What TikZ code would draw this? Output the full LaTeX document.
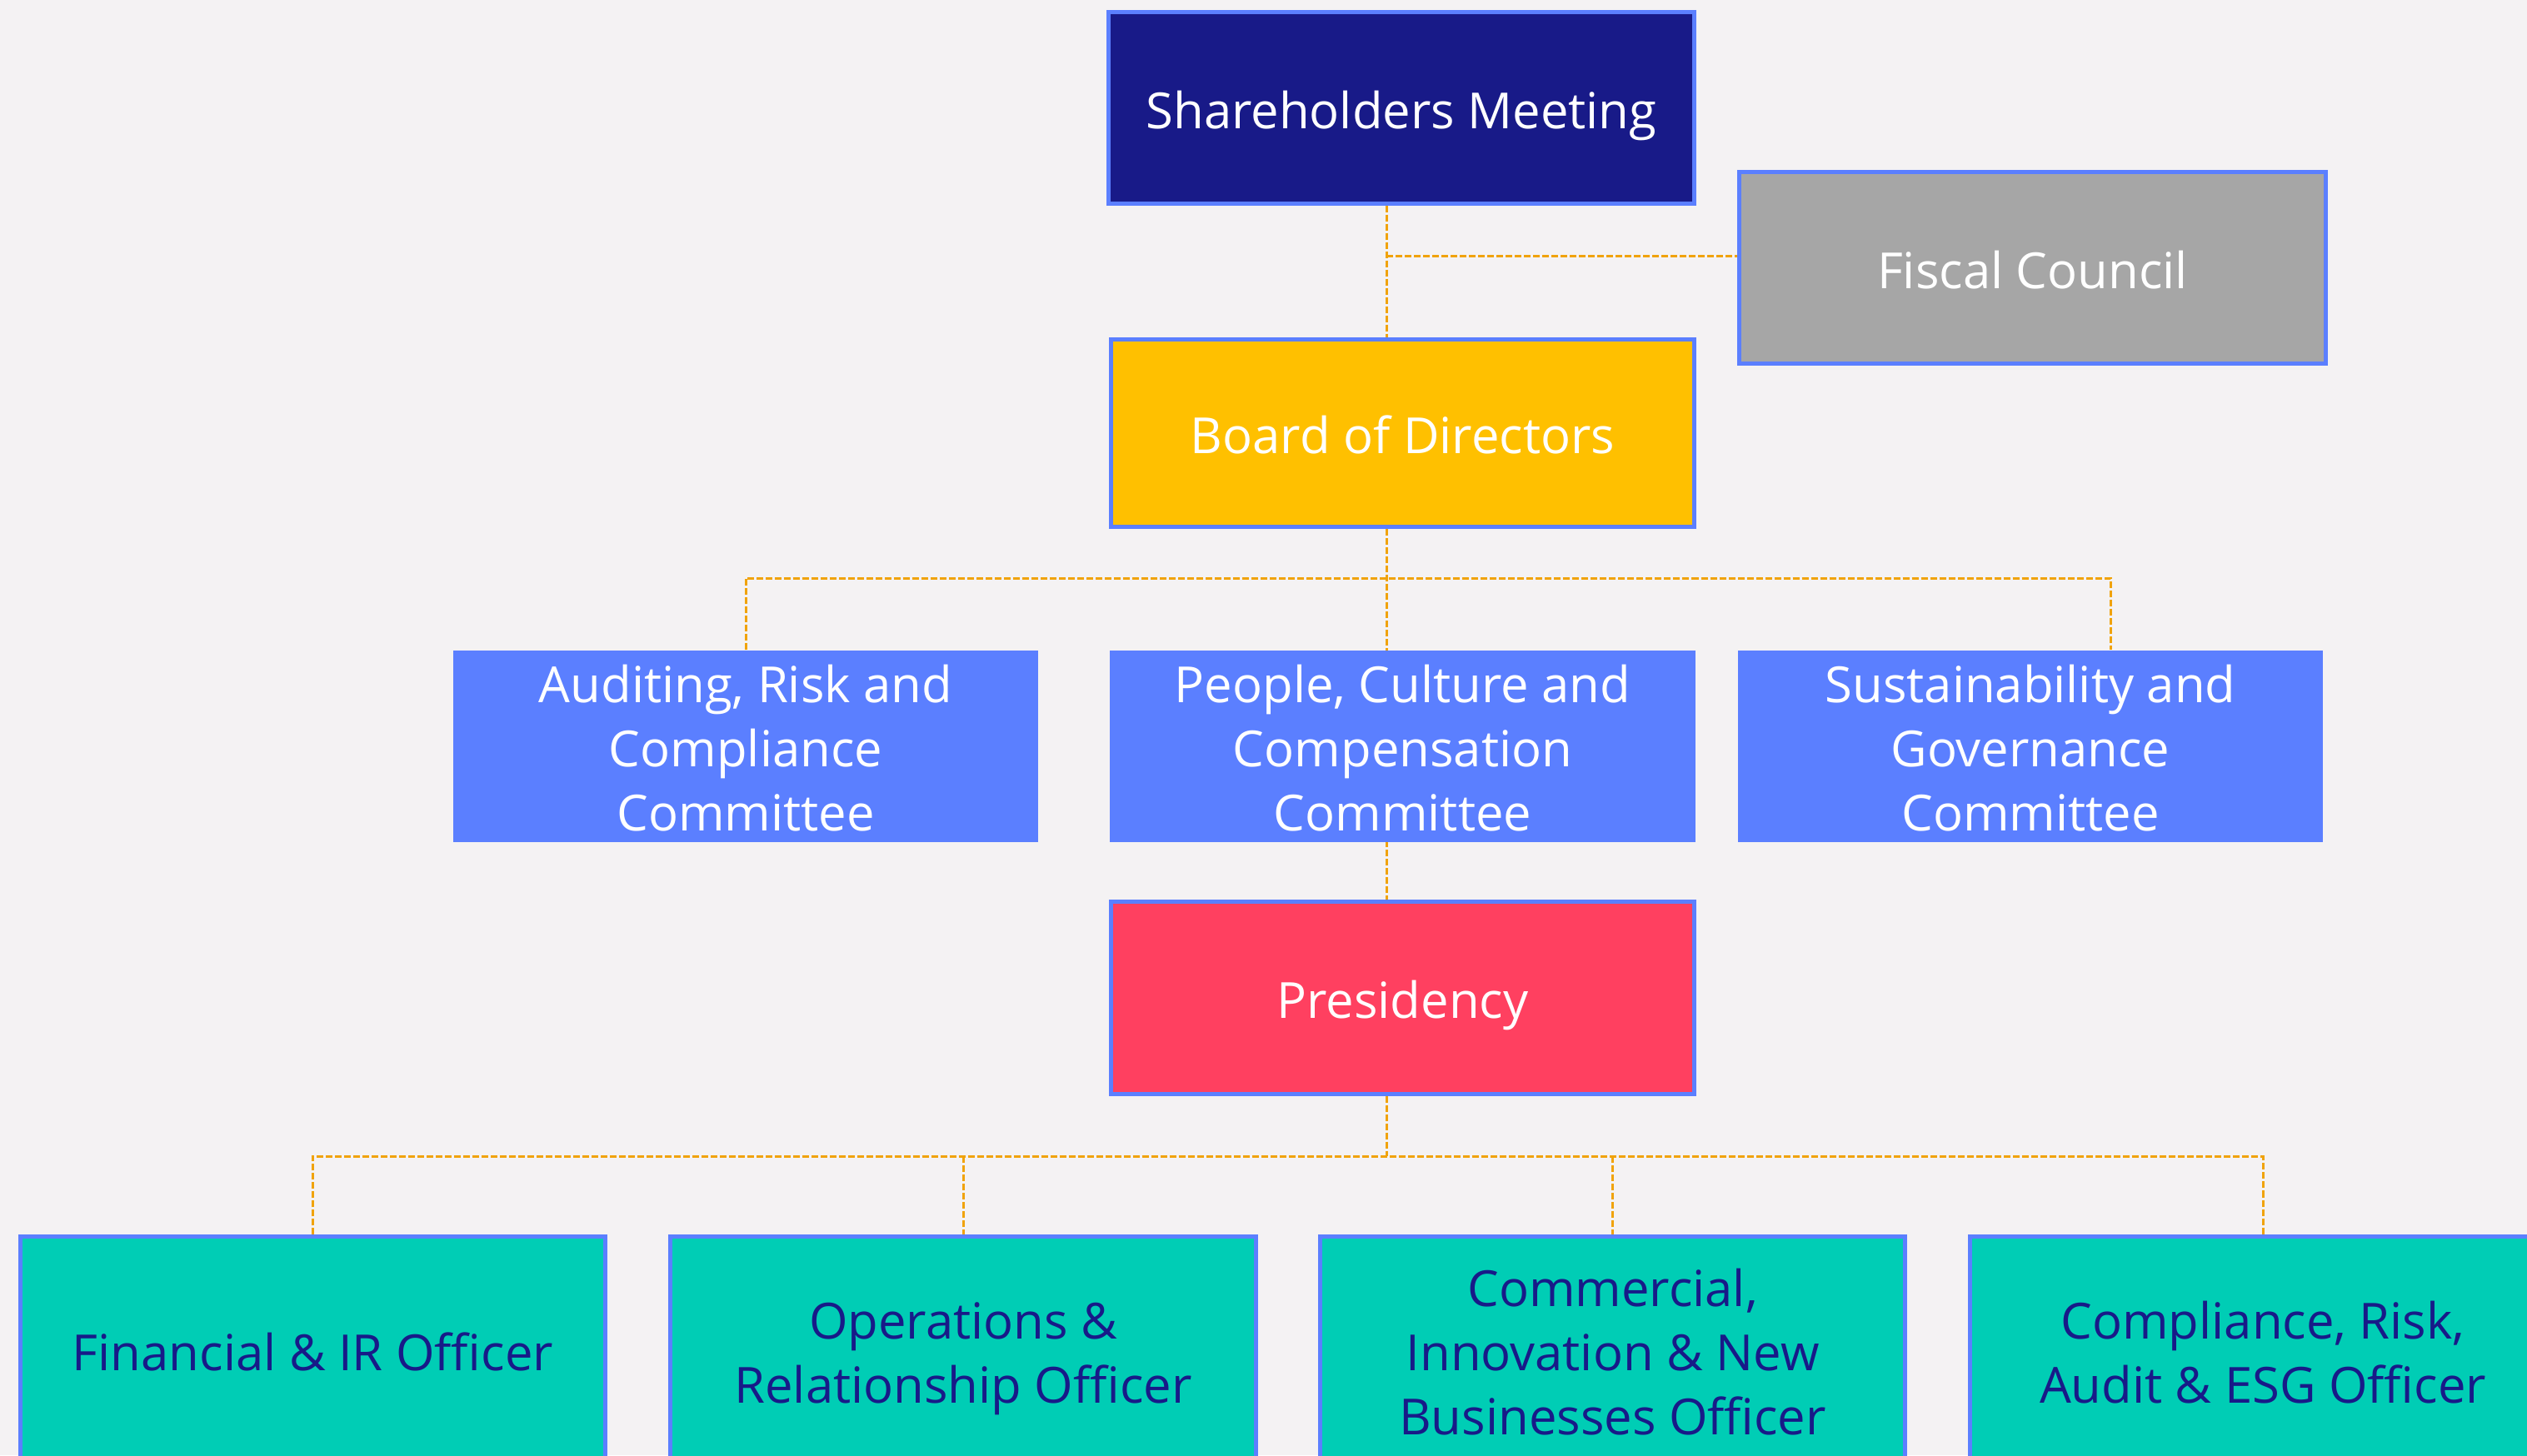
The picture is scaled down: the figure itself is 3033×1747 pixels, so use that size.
\documentclass[tikz,border=0pt]{standalone}
\usepackage{fontspec}
\setmainfont{Open Sans}
\pgfdeclarelayer{background}
\pgfsetlayers{background,main}
\definecolor{bgc}{HTML}{F4F2F3}
\definecolor{navy}{HTML}{181A88}
\definecolor{bord}{HTML}{5B7FFF}
\definecolor{grayc}{HTML}{A6A6A6}
\definecolor{gold}{HTML}{FFC000}
\definecolor{comm}{HTML}{5B7FFF}
\definecolor{redc}{HTML}{FF4060}
\definecolor{teal}{HTML}{00CDB5}
\definecolor{linec}{HTML}{F0A30A}
% one text line with a fixed strut, so that boxes centre on the capitals
\newcommand\tline[1]{\smash{#1}\rule[-1.0pt]{0pt}{16.0pt}}
\begin{document}
\begin{tikzpicture}[x=0.01cm,y=-0.01cm,
  box/.style={rectangle, draw=bord, line width=1.4pt, inner sep=0pt, align=center,
    font=\fontsize{17}{21.9}\selectfont, text=white},
  cbox/.style={rectangle, fill=comm, inner sep=0pt, align=center,
    font=\fontsize{17}{21.9}\selectfont, text=white, minimum width=7.02cm, minimum height=2.30cm},
  obox/.style={box, fill=teal, text=navy, minimum width=7.02cm, minimum height=2.72cm},
  conn/.style={draw=linec, line width=0.85pt, dash pattern=on 0.08cm off 0.03cm}]
\path[use as bounding box, clip] (0,0) rectangle (3033,1747);
% top nodes
\node[box, fill=navy, minimum width=7.02cm, minimum height=2.29cm] (sh) at (1682,129.5) {\tline{Shareholders Meeting}};
\node[box, fill=grayc, minimum width=7.03cm, minimum height=2.29cm] (fc) at (2439.5,321.5) {\tline{Fiscal Council}};
\node[box, fill=gold, minimum width=7.00cm, minimum height=2.25cm] (bd) at (1683.5,520) {\tline{Board of Directors}};
% committees
\node[cbox] (ar) at (895,896) {\tline{Auditing, Risk and}\\\tline{Compliance}\\\tline{Committee}};
\node[cbox] (pc) at (1683.5,896) {\tline{People, Culture and}\\\tline{Compensation}\\\tline{Committee}};
\node[cbox] (sg) at (2437,896) {\tline{Sustainability and}\\\tline{Governance}\\\tline{Committee}};
% presidency
\node[box, fill=redc, minimum width=7.00cm, minimum height=2.30cm] (pr) at (1683.5,1198) {\tline{Presidency}};
% officers
\node[obox] (fi) at (375.5,1621) {\tline{Financial \& IR Officer}};
\node[obox] (op) at (1156,1621) {\tline{Operations \&}\\\tline{Relationship Officer}};
\node[obox] (co) at (1935.5,1621) {\tline{Commercial,}\\\tline{Innovation \& New}\\\tline{Businesses Officer}};
\node[obox] (cr) at (2716,1621) {\tline{Compliance, Risk,}\\\tline{Audit \& ESG Officer}};
% connector helpers
\coordinate (trunk) at (1664,0);
\coordinate (fcj) at (1664,307);
\coordinate (cbus) at (1664,694);
\coordinate (sgx) at (2533,0);
\coordinate (obus) at (1664,1388);
\begin{pgfonlayer}{background}
\fill[bgc] (0,0) rectangle (3033,1747);
\path[conn] (sh.south -| trunk) -- (bd.north -| trunk);
\path[conn] (fcj) -- (fcj -| fc.west);
\path[conn] (bd.south -| trunk) -- (pr.north -| trunk);
\path[conn] (ar.north) -- (ar.north |- cbus) -- (cbus -| sgx) -- (sg.north -| sgx);
\path[conn] (pr.south -| trunk) -- (obus);
\path[conn] (fi.north) -- (fi.north |- obus) -- (obus -| cr.north) -- (cr.north);
\path[conn] (op.north |- obus) -- (op.north);
\path[conn] (co.north |- obus) -- (co.north);
\end{pgfonlayer}
\end{tikzpicture}
\end{document}
